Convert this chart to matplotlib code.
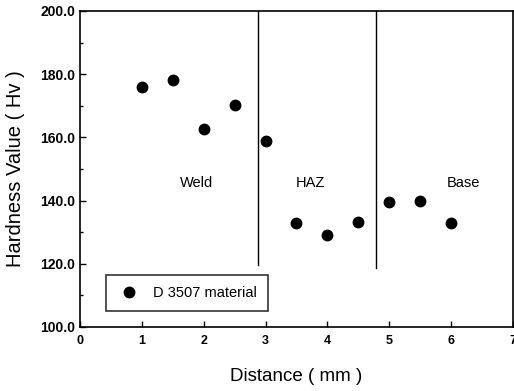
import numpy as np
import matplotlib.pyplot as plt
from matplotlib.ticker import MultipleLocator, FormatStrFormatter

plt.rcParams['font.family'] = ['Liberation Sans', 'DejaVu Sans']

# du lieu do do cung
distance = [1.0, 1.5, 2.0, 2.5, 3.0, 3.5, 4.0, 4.5, 5.0, 5.5, 6.0]
hardness = [176.0, 178.3, 162.8, 170.3, 158.8, 132.8, 129.0, 133.2, 139.6, 140.0, 133.0]

# ranh gioi vung
boundaries = [2.88, 4.79]
boundary_bottom = [119.5, 118.8]
zone_names = ['Weld', 'HAZ', 'Base']
zone_x = [1.88, 3.72, 6.2]
zone_y = [145.5, 145.5, 145.5]

fig = plt.figure(figsize=(5.14, 3.91), dpi=100)
ax = fig.add_axes([0.1556, 0.1637, 0.8424, 0.8082])

ax.plot(distance, hardness, 'ko', markersize=7.5, label='D 3507 material')
for xb, yb in zip(boundaries, boundary_bottom):
    ax.plot([xb, xb], [yb, 200], color='black', linewidth=1.0)
for name, xt, yt in zip(zone_names, zone_x, zone_y):
    ax.text(xt, yt, name, ha='center', va='center', fontsize=10.5)

ax.set_xlim(0, 7)
ax.set_ylim(100, 200)
ax.yaxis.set_major_locator(MultipleLocator(20))
ax.yaxis.set_minor_locator(MultipleLocator(10))
ax.xaxis.set_major_locator(MultipleLocator(1))
ax.yaxis.set_major_formatter(FormatStrFormatter('%.1f'))
ax.tick_params(direction='in', length=4, width=1, labelsize=10)
ax.tick_params(axis='x', labelsize=9, pad=6)
ax.tick_params(which='minor', direction='in', length=2.5, width=1)
for lab in ax.get_xticklabels() + ax.get_yticklabels():
    lab.set_fontweight('bold')
for s in ax.spines.values():
    s.set_linewidth(1.2)

ax.set_xlabel('Distance ( mm )', fontsize=13.5, labelpad=15)
ax.set_ylabel('Hardness Value ( Hv )', fontsize=14.5, labelpad=11)

# chu thich
leg = ax.legend(loc='lower left', bbox_to_anchor=(0.06, 0.05), fontsize=10.5,
                frameon=True, fancybox=False, borderpad=0.75, handletextpad=0.9,
                borderaxespad=0, handlelength=1.6)
leg.get_frame().set_edgecolor('black')
leg.get_frame().set_linewidth(1.2)

plt.savefig('out.png', dpi=100)
